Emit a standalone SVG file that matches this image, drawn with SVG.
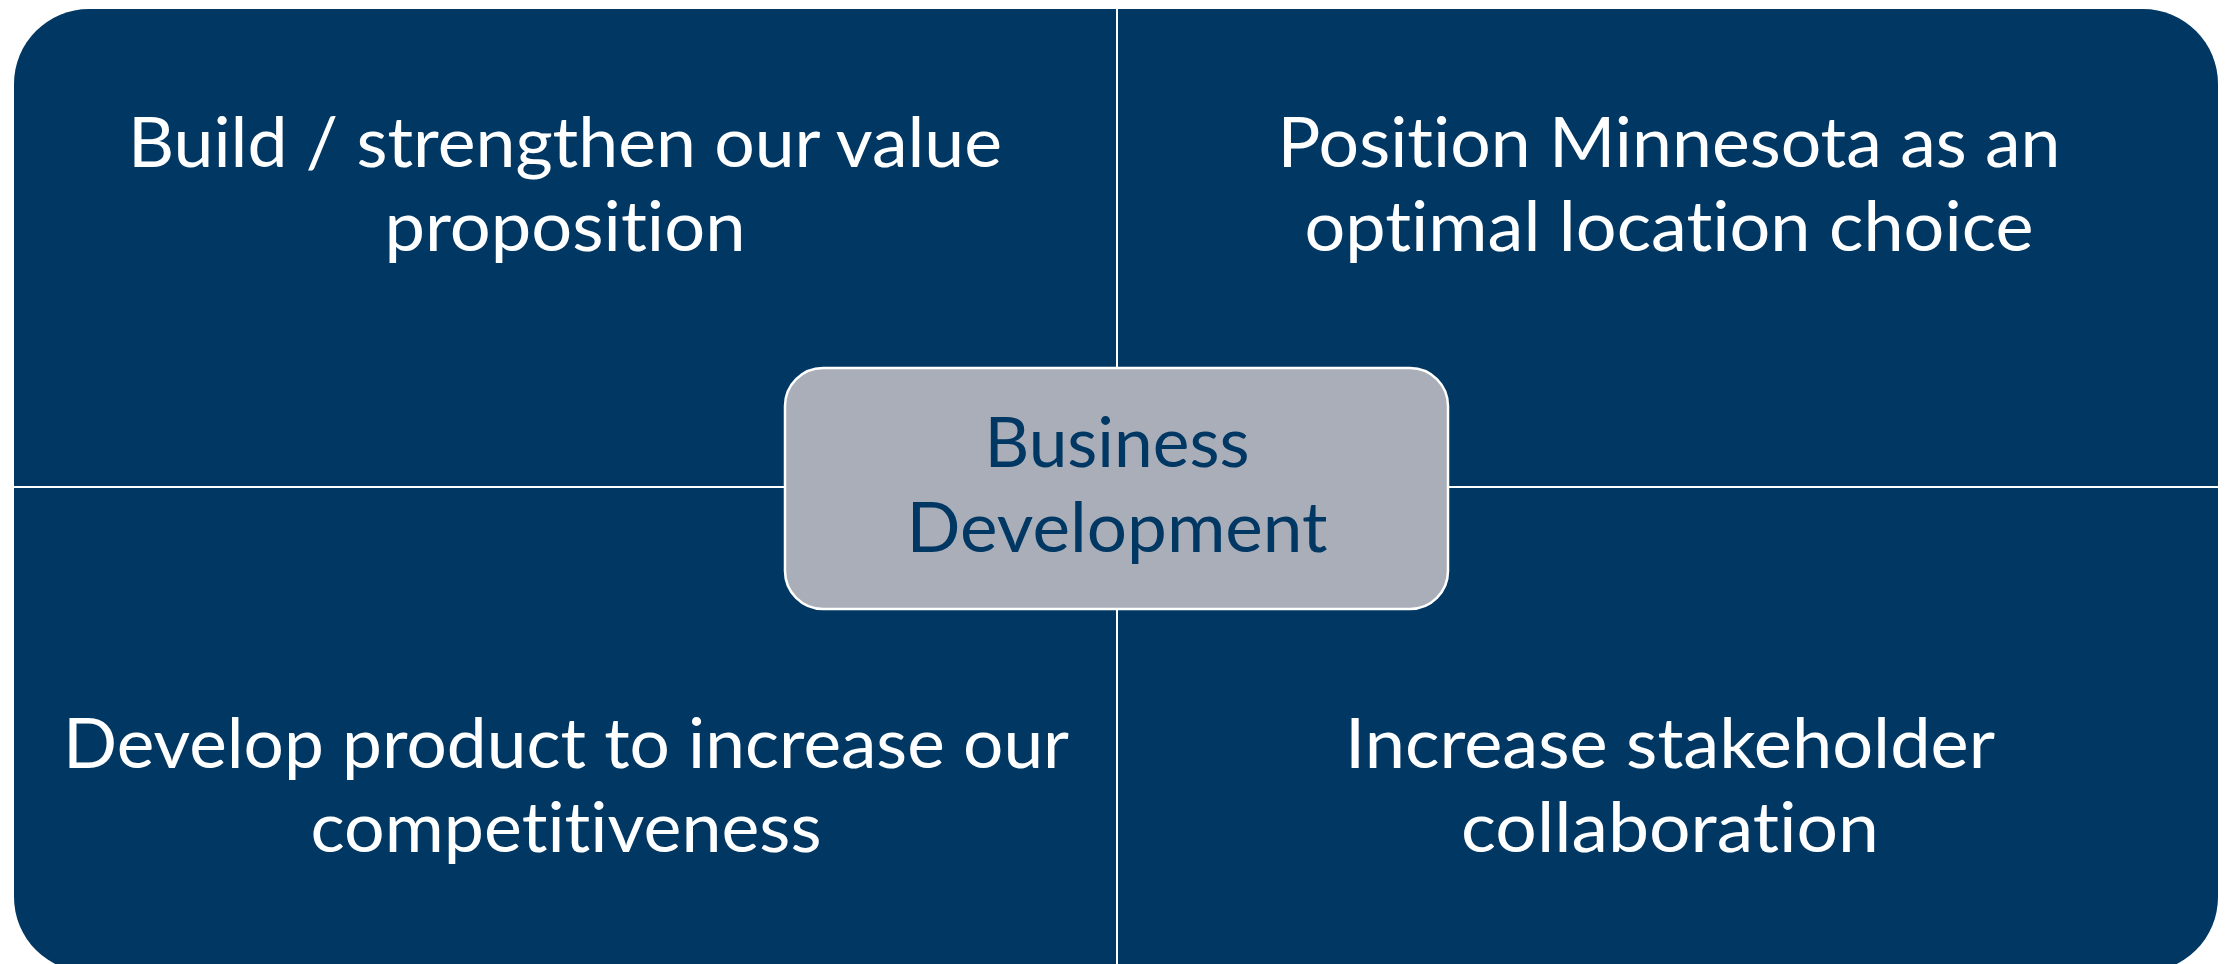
<svg xmlns="http://www.w3.org/2000/svg" width="2226" height="964" viewBox="0 0 2226 964">
<style>
.q{fill:#013763;}
.t,.c{font-family:Lato,"Open Sans",sans-serif;font-size:69px;text-anchor:middle;font-variant-ligatures:none;font-feature-settings:"liga" 0,"dlig" 0;}
.t{fill:#ffffff;}
.c{fill:#013763;}
.hub{fill:#A9AEB9;stroke:#ffffff;stroke-width:2.5;}
</style>
<rect width="2226" height="964" fill="#ffffff"/>
<g id="quadrant-tl">
<path class="q" d="M14,84 A75,75 0 0 1 89,9 L1116,9 L1116,486 L14,486 Z"/>
<text class="t"><tspan x="565" y="167" textLength="874" lengthAdjust="spacingAndGlyphs">Build / strengthen our value</tspan><tspan x="565" y="251" textLength="361" lengthAdjust="spacingAndGlyphs">proposition</tspan></text>
</g>
<g id="quadrant-tr">
<path class="q" d="M1118,9 L2143,9 A75,75 0 0 1 2218,84 L2218,486 L1118,486 Z"/>
<text class="t"><tspan x="1669" y="167" textLength="783" lengthAdjust="spacingAndGlyphs">Position Minnesota as an</tspan><tspan x="1669" y="251" textLength="729" lengthAdjust="spacingAndGlyphs">optimal location choice</tspan></text>
</g>
<g id="quadrant-bl">
<path class="q" d="M14,488 L1116,488 L1116,972 L89,972 A75,75 0 0 1 14,897 Z"/>
<text class="t"><tspan x="566" y="768" textLength="1006" lengthAdjust="spacingAndGlyphs">Develop product to increase our</tspan><tspan x="566" y="852" textLength="511" lengthAdjust="spacingAndGlyphs">competitiveness</tspan></text>
</g>
<g id="quadrant-br">
<path class="q" d="M1118,488 L2218,488 L2218,897 A75,75 0 0 1 2143,972 L1118,972 Z"/>
<text class="t"><tspan x="1670" y="768" textLength="650" lengthAdjust="spacingAndGlyphs">Increase stakeholder</tspan><tspan x="1670" y="852" textLength="418" lengthAdjust="spacingAndGlyphs">collaboration</tspan></text>
</g>
<g id="connectors"></g>
<g id="hub">
<rect class="hub" x="785" y="368" width="663" height="241" rx="38" ry="38"/>
<text class="c"><tspan x="1117" y="467" textLength="265" lengthAdjust="spacingAndGlyphs">Business</tspan><tspan x="1117" y="552" textLength="421" lengthAdjust="spacingAndGlyphs">Development</tspan></text>
</g>
</svg>
